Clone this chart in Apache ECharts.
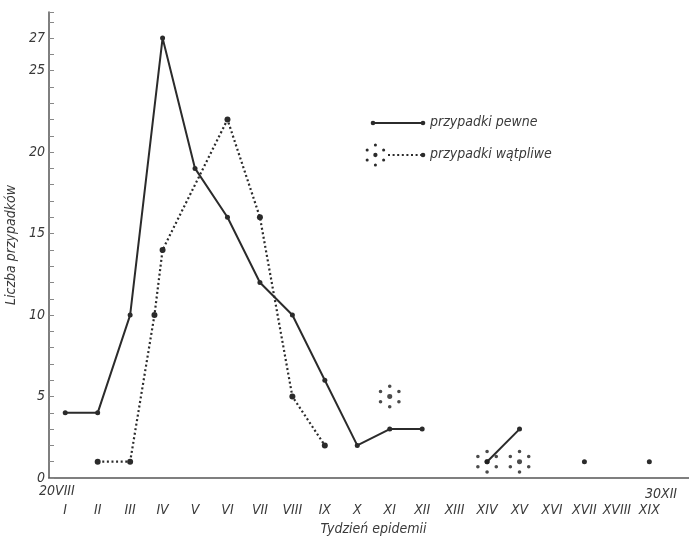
<!DOCTYPE html>
<html>
<head>
<meta charset="utf-8">
<script src="https://cdn.jsdelivr.net/npm/echarts@6/dist/echarts.min.js"></script>
<style>
html,body{margin:0;padding:0;background:#fff;}
#chart{width:689px;height:540px;}
</style>
</head>
<body>
<div id="chart"></div>
<script>
// ---- data ----
const weekLabels = ['I','II','III','IV','V','VI','VII','VIII','IX','X','XI','XII','XIII','XIV','XV','XVI','XVII','XVIII','XIX'];
const weeks = [1,2,3,4,5,6,7,8,9,10,11,12,13,14,15,16,17,18,19];
const certain = [4,4,10,27,19,16,12,10,6,2,3,3,null,1,3,null,1,null,1];
const doubtfulWeeks = [2,3,3.75,4,6,7,8,9];
const doubtful = [1,1,10,14,22,16,5,2];
const doubtfulSingleWeeks = [11,14,15];
const doubtfulSingle = [5,1,1];
const yTickLabels = [0,5,10,15,20,25,27];
const seriesNames = ['przypadki pewne','przypadki wątpliwe'];

const FONT = 'DejaVu Sans Condensed';
const INK = '#2b2b2b';
const TXT = '#3a3a3a';

function ringDots(){
  const pts = [[12,12,2.4]];
  const R = 10;
  [90,30,-30,-90,-150,150].forEach(a=>{
    const r = a*Math.PI/180;
    pts.push([12+R*Math.cos(r), 12-R*Math.sin(r), 1.7]);
  });
  return pts;
}
const RING = 'path://' + ringDots().map(([x,y,r])=>
    `M${(x-r).toFixed(2)} ${y.toFixed(2)}A${r} ${r} 0 1 0 ${(x+r).toFixed(2)} ${y.toFixed(2)}A${r} ${r} 0 1 0 ${(x-r).toFixed(2)} ${y.toFixed(2)}Z`
  ).join('');

const legendRing = ringDots().map(([x,y,r])=>({
  type: 'circle', shape: {cx: 364 + x*0.95, cy: 143 + y, r: r*0.9}, style: {fill: INK}
}));

const chart = echarts.init(document.getElementById('chart'));
const option = {
  animation: false,
  backgroundColor: '#fff',
  grid: {left: 49, right: -9, top: 12, bottom: 62, containLabel: false, outerBoundsMode: 'none'},
  xAxis: [{
    type: 'category',
    data: weekLabels.concat(['']),
    boundaryGap: true,
    axisLine: {lineStyle: {color: '#555', width: 1.5}},
    axisTick: {inside: true, length: 4, interval: 0, lineStyle: {color: '#999'}},
    axisLabel: {interval: 0, margin: 25, fontFamily: FONT, fontStyle: 'italic', fontSize: 14, color: TXT},
    name: 'Tydzień epidemii',
    nameLocation: 'middle',
    nameGap: 44,
    nameTextStyle: {fontFamily: FONT, fontStyle: 'italic', fontSize: 14, color: TXT},
    splitLine: {show: false}
  },{
    type: 'value', min: 0.5, max: 20.5, show: false
  }],
  yAxis: {
    type: 'value', min: 0, max: 28.6, interval: 1,
    axisLine: {show: true, lineStyle: {color: '#555', width: 1.5}},
    axisTick: {show: true, inside: true, length: 5, lineStyle: {color: '#888'}},
    splitLine: {show: false},
    axisLabel: {
      margin: 4, fontFamily: FONT, fontStyle: 'italic', fontSize: 14, color: TXT,
      formatter: v => yTickLabels.indexOf(v) >= 0 ? String(v) : ''
    },
    name: 'Liczba przypadków',
    nameLocation: 'middle',
    nameRotate: 90,
    nameGap: 24,
    nameTextStyle: {fontFamily: FONT, fontStyle: 'italic', fontSize: 14, color: TXT}
  },
  series: [{
    name: seriesNames[0],
    type: 'line',
    xAxisIndex: 1,
    data: weeks.map((w,i)=>[w, certain[i]]),
    connectNulls: false,
    symbol: 'circle', symbolSize: 5, showAllSymbol: true,
    lineStyle: {color: INK, width: 2},
    itemStyle: {color: INK},
    z: 3
  },{
    name: seriesNames[1],
    type: 'line',
    xAxisIndex: 1,
    data: doubtfulWeeks.map((w,i)=>[w, doubtful[i]]),
    symbol: 'circle', symbolSize: 6, showAllSymbol: true,
    lineStyle: {color: INK, width: 2.2, type: [2, 2.6]},
    itemStyle: {color: INK},
    z: 2
  },{
    name: seriesNames[1],
    type: 'scatter',
    xAxisIndex: 1,
    data: doubtfulSingleWeeks.map((w,i)=>[w, doubtfulSingle[i]]),
    symbol: RING, symbolSize: [22, 24],
    itemStyle: {color: '#1e1e1e'},
    z: 4
  }],
  graphic: [
    {type: 'text', x: 39, y: 484, style: {text: '20VIII', font: 'italic 14px "' + FONT + '"', fill: TXT}},
    {type: 'text', x: 645, y: 487, style: {text: '30XII', font: 'italic 14px "' + FONT + '"', fill: TXT}},
    // legend
    {type: 'line', shape: {x1: 373, y1: 123, x2: 423, y2: 123}, style: {stroke: INK, lineWidth: 2}},
    {type: 'circle', shape: {cx: 373, cy: 123, r: 2.3}, style: {fill: INK}},
    {type: 'circle', shape: {cx: 423, cy: 123, r: 2.3}, style: {fill: INK}},
    {type: 'text', x: 430, y: 115, style: {text: seriesNames[0], font: 'italic 14px "' + FONT + '"', fill: TXT}},
    {type: 'line', shape: {x1: 388, y1: 155, x2: 423, y2: 155}, style: {stroke: INK, lineWidth: 2, lineDash: [2, 2.6]}},
    {type: 'circle', shape: {cx: 423, cy: 155, r: 2.3}, style: {fill: INK}},
    {type: 'text', x: 430, y: 147, style: {text: seriesNames[1], font: 'italic 14px "' + FONT + '"', fill: TXT}}
  ].concat(legendRing)
};
chart.setOption(option);
</script>
</body>
</html>
